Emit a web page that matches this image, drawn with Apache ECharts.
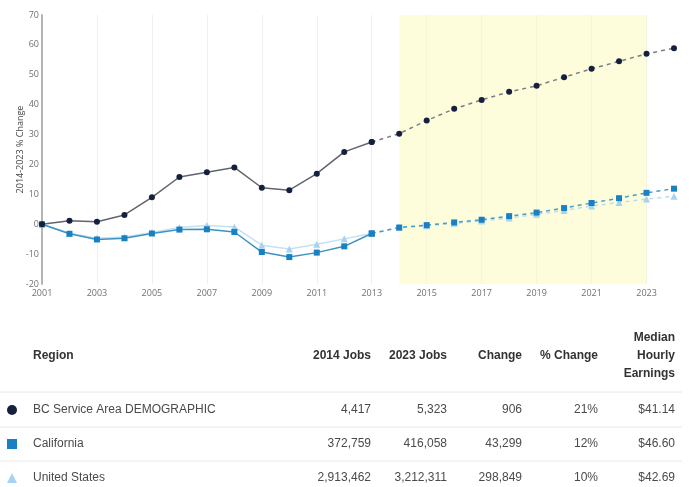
<!DOCTYPE html>
<html>
<head>
<meta charset="utf-8">
<script src="https://cdn.jsdelivr.net/npm/echarts@6/dist/echarts.min.js"></script>
<style>
html,body{margin:0;padding:0;background:#fff;}
#chart{width:691px;height:487px;}
</style>
</head>
<body>
<div id="chart"></div>
<script>
// ---- Data ----
var years = ['2001','2002','2003','2004','2005','2006','2007','2008','2009','2010','2011','2012',
             '2013','2014','2015','2016','2017','2018','2019','2020','2021','2022','2023','2024'];
var bcValues = [0, 1.2, 0.8, 3.1, 9.0, 15.8, 17.4, 19.0, 12.2, 11.4, 16.9, 24.2,
                27.5, 30.3, 34.7, 38.6, 41.6, 44.3, 46.3, 49.2, 52.0, 54.5, 57.0, 58.9];
var caValues = [0, -3.2, -5.1, -4.7, -3.1, -1.8, -1.7, -2.6, -9.3, -11.0, -9.5, -7.4,
                -3.1, -1.1, -0.3, 0.6, 1.5, 2.7, 3.9, 5.4, 7.1, 8.7, 10.5, 11.9];
var usValues = [0, -3.0, -4.7, -4.3, -2.8, -1.1, -0.4, -0.9, -7.0, -8.3, -6.7, -4.9,
                -3.1, -1.1, -0.5, 0.3, 1.1, 2.1, 3.3, 4.6, 6.1, 7.3, 8.4, 9.4];
var lastActualYear = '2013';
var highlightStart = '2014';
var highlightEnd = '2023';
var yAxisName = '2014-2023 % Change';

var regions = ['BC Service Area DEMOGRAPHIC', 'California', 'United States'];
var jobs2014 = ['4,417', '372,759', '2,913,462'];
var jobs2023 = ['5,323', '416,058', '3,212,311'];
var jobChange = ['906', '43,299', '298,849'];
var pctChange = ['21%', '12%', '10%'];
var earnings = ['$41.14', '$46.60', '$42.69'];
var headers = ['Region', '2014 Jobs', '2023 Jobs', 'Change', '% Change', 'Median\nHourly\nEarnings'];

// ---- Helpers ----
var splitIdx = years.indexOf(lastActualYear);
function hist(arr){ return arr.map(function(v,i){ return i <= splitIdx ? v : null; }); }
function proj(arr){ return arr.map(function(v,i){ return i >= splitIdx ? v : null; }); }

var styles = {
  us: {line:'#c2e1f4', dash:'#b8dcf2', marker:'#a6d3f1', symbol:'triangle', size:7},
  ca: {line:'#3c93bf', dash:'#4a9cc6', marker:'#1880c3', symbol:'rect', size:6},
  bc: {line:'#62646e', dash:'#7c7e86', marker:'#15203f', symbol:'circle', size:6}
};
function mk(name, data, st, dashed, extra){
  var s = {
    type:'line', name:name, data:data, symbol:st.symbol, symbolSize:st.size,
    showAllSymbol:true, connectNulls:false, silent:true,
    lineStyle:{color: dashed ? st.dash : st.line, width:1.5, type: dashed ? [4,4] : 'solid'},
    itemStyle:{color:st.marker},
    z: extra && extra.z ? extra.z : 3
  };
  if (extra && extra.markArea) s.markArea = extra.markArea;
  return s;
}

var series = [
  mk('United States', hist(usValues), styles.us, false, {z:3, markArea:{
      silent:true, z:1,
      itemStyle:{color:'rgba(252,252,190,0.55)'},
      data:[[{xAxis:highlightStart},{xAxis:highlightEnd}]]
  }}),
  mk('United States proj', proj(usValues), styles.us, true, {z:3}),
  mk('California', hist(caValues), styles.ca, false, {z:4}),
  mk('California proj', proj(caValues), styles.ca, true, {z:4}),
  mk('BC', hist(bcValues), styles.bc, false, {z:5}),
  mk('BC proj', proj(bcValues), styles.bc, true, {z:5})
];

// ---- Table as graphic ----
var font = '"Liberation Sans", Arial, sans-serif';
var colRight = [null, 371, 447, 522, 598, 675];
var rowY = [410, 444, 478];
var headerY = 356;
var sepY = [392, 427, 461];
var g = [];
g.push({type:'text', style:{text:headers[0], x:33, y:headerY, textAlign:'left', textVerticalAlign:'middle', font:'bold 12px '+font, fill:'#333'}});
for (var c=1;c<headers.length;c++){
  g.push({type:'text', style:{text:headers[c], x:colRight[c], y:headerY, textAlign:'right', textVerticalAlign:'middle', font:'bold 12px '+font, fill:'#333', lineHeight:18}});
}
sepY.forEach(function(y){
  g.push({type:'line', shape:{x1:0, y1:y, x2:682, y2:y}, style:{stroke:'#e8e8e8', lineWidth:1}});
});
var cols = [jobs2014, jobs2023, jobChange, pctChange, earnings];
for (var r=0;r<regions.length;r++){
  g.push({type:'text', style:{text:regions[r], x:33, y:rowY[r], textAlign:'left', textVerticalAlign:'middle', font:'12px '+font, fill:'#4a4a4a'}});
  for (var k=0;k<cols.length;k++){
    g.push({type:'text', style:{text:cols[k][r], x:colRight[k+1], y:rowY[r], textAlign:'right', textVerticalAlign:'middle', font:'12px '+font, fill:'#4a4a4a'}});
  }
}
g.push({type:'circle', shape:{cx:12, cy:rowY[0], r:5}, style:{fill:styles.bc.marker}});
g.push({type:'rect', shape:{x:7, y:rowY[1]-5, width:10, height:10}, style:{fill:styles.ca.marker}});
g.push({type:'polygon', shape:{points:[[12,rowY[2]-5],[7,rowY[2]+5],[17,rowY[2]+5]]}, style:{fill:styles.us.marker}});

var chart = echarts.init(document.getElementById('chart'), null, {renderer:'canvas'});
chart.setOption({
  animation:false,
  backgroundColor:'#ffffff',
  grid:{left:42, right:17, top:15, bottom:203, containLabel:false, outerBoundsMode:'none'},
  xAxis:{
    type:'category', data:years, boundaryGap:false,
    axisLine:{show:false}, axisTick:{show:false},
    axisLabel:{interval:1, color:'#707070', fontSize:9, fontFamily:'"Open Sans", sans-serif', margin:5},
    splitLine:{show:true, interval:1, lineStyle:{color:'#efefef', width:1}}
  },
  yAxis:{
    type:'value', min:-20, max:70, interval:10,
    name:yAxisName, nameLocation:'middle', nameGap:17, nameRotate:90, nameMoveOverlap:false,
    nameTextStyle:{color:'#444', fontSize:9, fontFamily:'"Open Sans", sans-serif'},
    axisLine:{show:true, lineStyle:{color:'#b4b4b4', width:2}},
    axisTick:{show:false},
    axisLabel:{color:'#707070', fontSize:9, fontFamily:'"Open Sans", sans-serif', margin:3},
    splitLine:{show:false}
  },
  series:series,
  graphic:g
});
</script>
</body>
</html>
